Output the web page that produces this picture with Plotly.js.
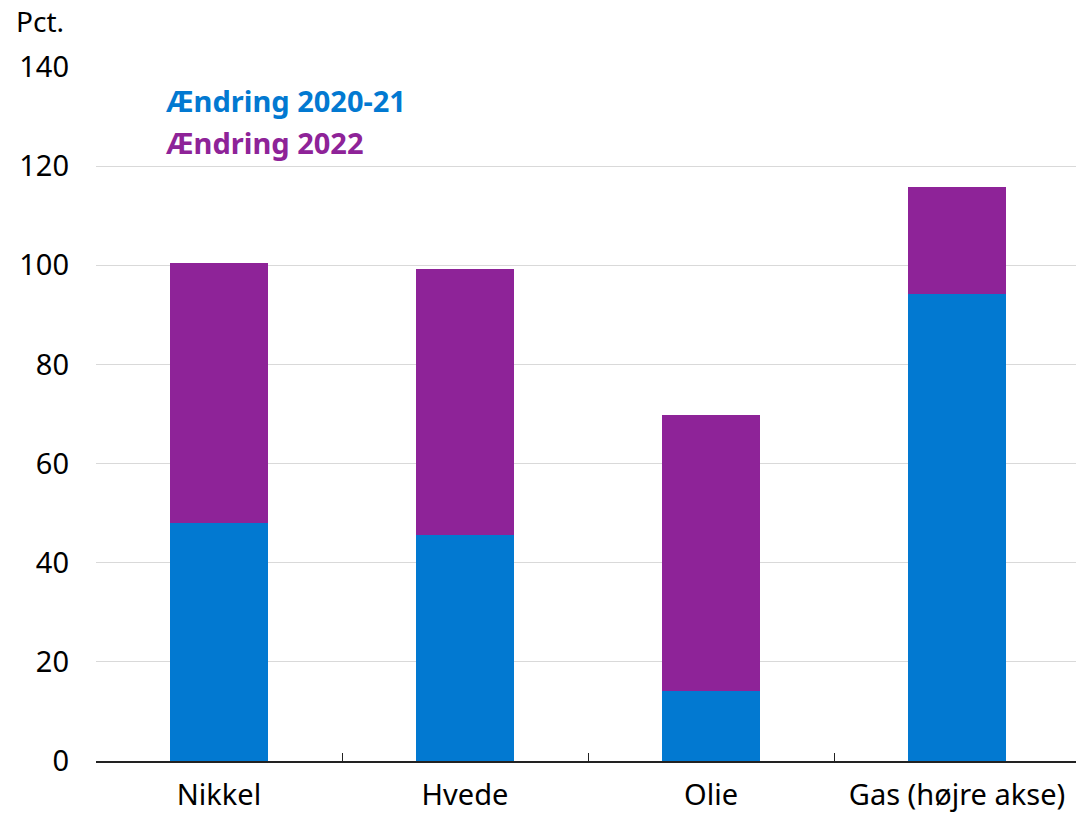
<!DOCTYPE html>
<html>
<head>
<meta charset="utf-8">
<script src="https://cdn.plot.ly/plotly-3.0.1.min.js"></script>
<style>html,body{margin:0;padding:0;background:#fff;overflow:hidden;}#chart{width:1080px;height:814px;}</style>
</head>
<body>
<div id="chart"></div>
<script>
const categories = ["Nikkel", "Hvede", "Olie", "Gas (højre akse)"];
const change2020_21 = [48.0, 45.6, 14.1, 94.2];
const change2022 = [52.5, 53.7, 55.7, 21.6];
const seriesNames = ["Ændring 2020-21", "Ændring 2022"];
const yTicks = [0, 20, 40, 60, 80, 100, 120, 140];

const blue = "#0279D1";
const purple = "#8E2398";
const fontFam = "Noto Sans, Open Sans, sans-serif";
const PW = 984, PH = 694;

const traces = [
  {type: "bar", x: categories, y: change2020_21, name: seriesNames[0], marker: {color: blue, line: {width: 0}}, width: 0.4},
  {type: "bar", x: categories, y: change2022, name: seriesNames[1], marker: {color: purple, line: {width: 0}}, width: 0.4}
];

const layout = {
  width: 1080, height: 814,
  margin: {l: 96, r: 0, t: 67, b: 53},
  barmode: "stack",
  showlegend: false,
  paper_bgcolor: "#fff", plot_bgcolor: "#fff",
  font: {family: fontFam, size: 29, color: "#000"},
  xaxis: {
    type: "category",
    showline: true, linecolor: "#222", linewidth: 1.5,
    ticks: "inside", tickson: "boundaries", ticklen: 8, tickcolor: "#222", tickwidth: 1,
    showgrid: false, zeroline: false,
    tickfont: {size: 29, color: "#000"},
    ticklabelstandoff: 8
  },
  yaxis: {
    range: [0, 140], tickvals: yTicks,
    showgrid: true, gridcolor: "#d9d9d9", gridwidth: 1,
    zeroline: false, showline: false, ticks: "",
    tickfont: {size: 29, color: "#000"},
    ticklabelstandoff: 26
  },
  annotations: [
    {xref: "paper", yref: "paper", x: -82/PW, y: 1 + 46/PH, xanchor: "left", yanchor: "middle",
     text: "Pct.", showarrow: false, font: {size: 28, color: "#000"}},
    {xref: "paper", yref: "paper", x: 68/PW, y: 1 - 33/PH, xanchor: "left", yanchor: "middle",
     text: "<b>" + seriesNames[0] + "</b>", showarrow: false, font: {size: 29, color: blue}},
    {xref: "paper", yref: "paper", x: 68/PW, y: 1 - 75/PH, xanchor: "left", yanchor: "middle",
     text: "<b>" + seriesNames[1] + "</b>", showarrow: false, font: {size: 29, color: purple}}
  ]
};

Plotly.newPlot("chart", traces, layout, {displayModeBar: false, staticPlot: true});
</script>
</body>
</html>
